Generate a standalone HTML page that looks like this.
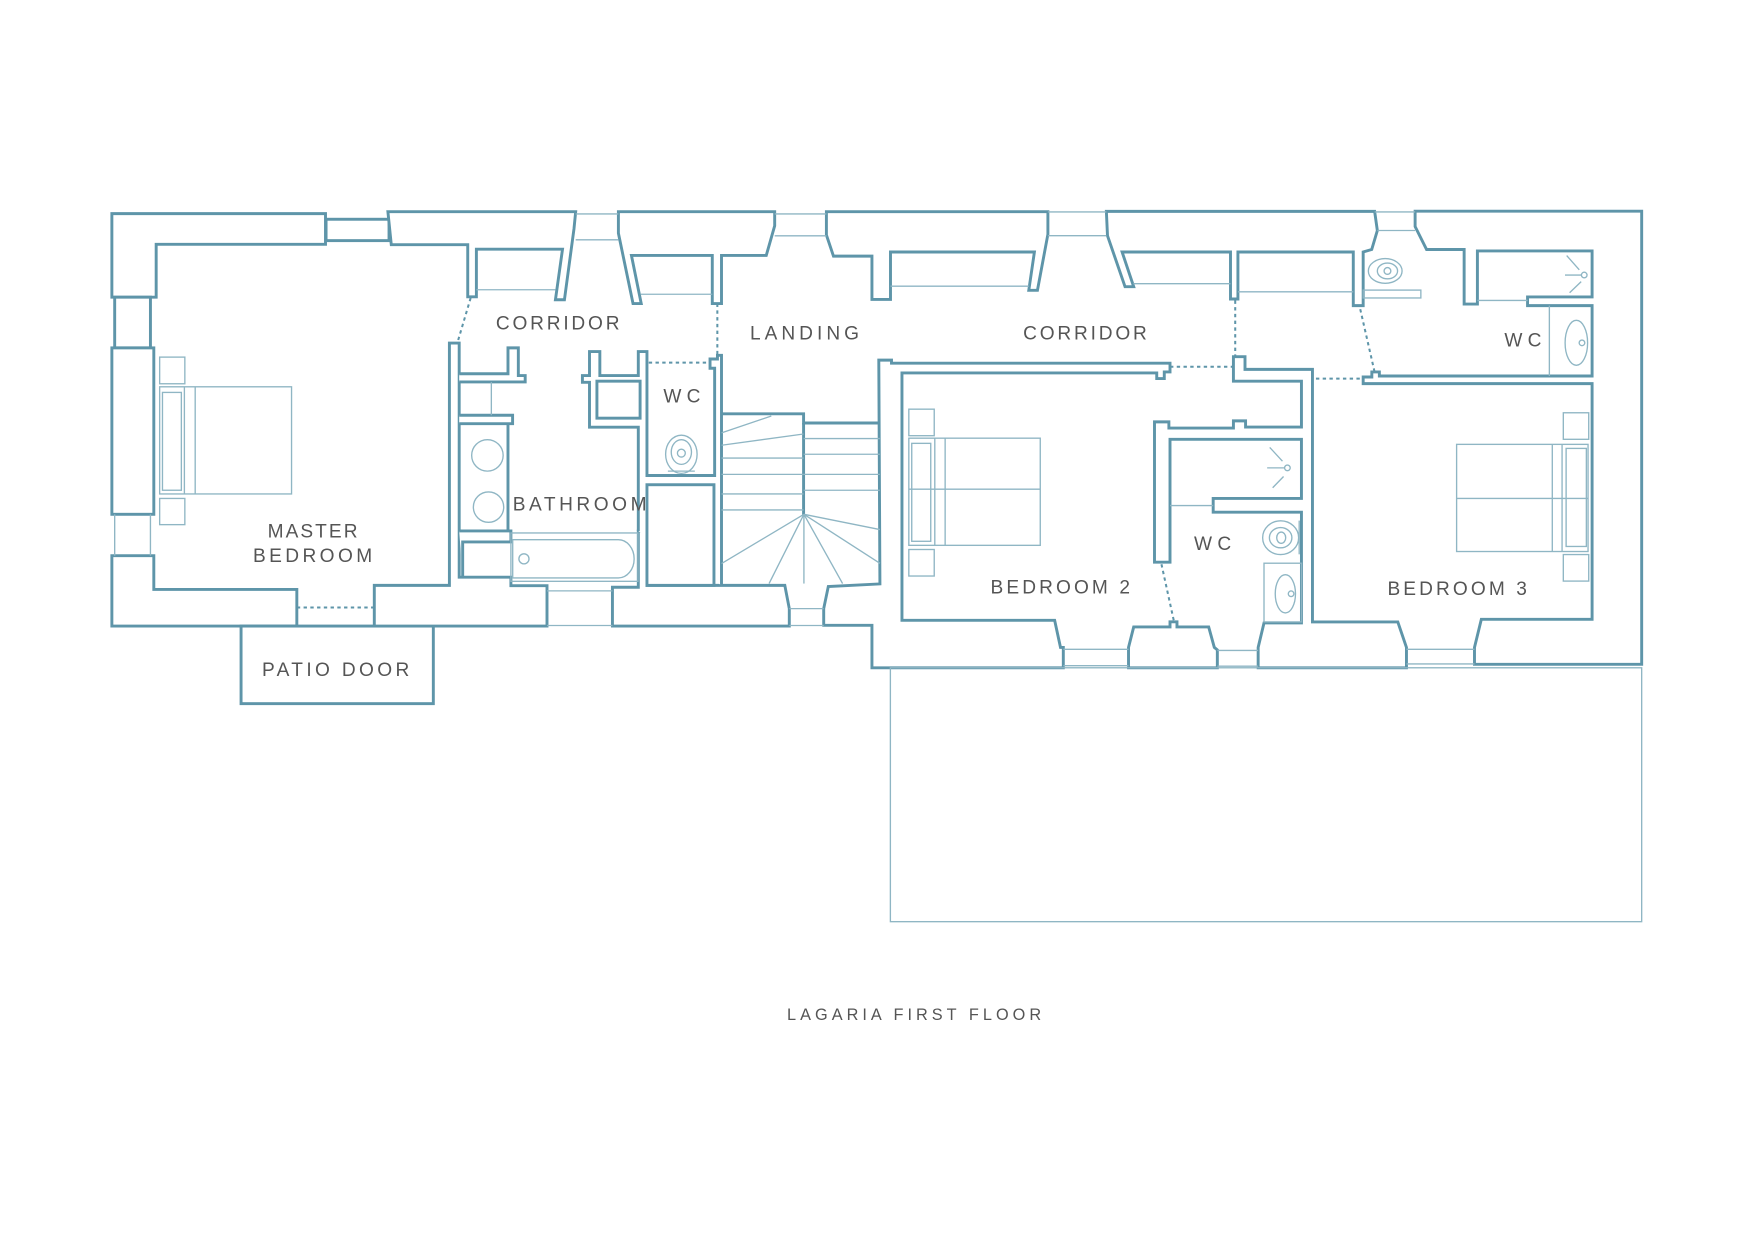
<!DOCTYPE html>
<html><head><meta charset="utf-8"><style>
html,body{margin:0;padding:0;background:#fff;}
svg{display:block;}
text{font-family:"Liberation Sans",sans-serif;fill:#555;font-size:17px;}
</style></head><body>
<svg width="1754" height="1241" viewBox="0 0 1560 1103.7" preserveAspectRatio="none" xmlns="http://www.w3.org/2000/svg">
<rect x="0" y="0" width="1560" height="1103.7" fill="#fff"/>
<g fill="#fff" stroke="#5e95a9" stroke-width="2.6" stroke-linejoin="miter">
<polygon points="99.5,190 289.5,190 289.5,217.3 138.9,217.3 138.9,264.3 99.5,264.3"/>
<rect x="290" y="195" width="56" height="19"/>
<polygon points="345,188.3 512,188.3 510.5,203.5 502,266.6 494,266.6 500.3,221.6 423.7,221.6 423.7,264 416,264 416,217.6 348,217.6"/>
<polygon points="550,188.3 689,188.3 689,200.8 681.5,227.2 641.7,227.2 641.7,270 633.5,270 633.5,227.2 561.6,227.2 570.3,270 563,270 550,207.4"/>
<polygon points="735,188.3 932,188.3 932,208.3 922.7,258.2 915,258.2 920,224.1 792,224.1 792,266.3 775.5,266.3 775.5,227.8 741.3,227.8 735,209"/>
<polygon points="984,188 1222.6,188 1225,205 1220,221.9 1212.4,224.1 1212.4,271.8 1203.6,271.8 1203.6,224.1 1101,224.1 1101,265.9 1094.4,265.9 1094.4,224.1 998,224.1 1008.3,255 1000.6,255 985,209.6"/>
<polygon points="1258.6,187.8 1460.1,187.8 1460.1,590.8 1311.4,590.8 1311.4,575.8 1317.5,550.8 1416,550.8 1416,341.2 1212.4,341.2 1212.4,335.3 1220.1,335.3 1220.1,330.8 1226.8,330.8 1226.8,334.4 1416,334.4 1416,271.8 1358.6,271.8 1358.6,264.1 1416,264.1 1416,223.2 1314,223.2 1314,270.4 1302.2,270.4 1302.2,221.9 1268.8,221.9 1258.6,201.5"/>
<rect x="102" y="264.3" width="31.8" height="45.1"/>
<rect x="99.5" y="309.4" width="37.3" height="148"/>
<polygon points="99.5,494.2 136.8,494.2 136.8,524.2 264,524.2 264,556.8 99.5,556.8"/>
<rect x="214.4" y="556.8" width="171" height="69"/>
<polygon points="332.9,556.8 332.9,520.6 399.7,520.6 399.7,305.1 408.4,305.1 408.4,513.3 454.4,513.3 454.4,520.9 486.5,520.9 486.5,556.8"/>
<polyline points="408.4,332.4 451.8,332.4 451.8,309.4 461,309.4 461,334 467.1,334 467.1,339.7 408.4,339.7"/>
<polyline points="408.4,369.3 455.9,369.3 455.9,376.8 408.4,376.8"/>
<polyline points="451.8,376.8 451.8,472.2"/>
<polyline points="408.4,472.2 454.4,472.2 454.4,482 411.5,482 411.5,513.3"/>
<polygon points="544.7,556.8 544.7,522.3 567.7,522.3 567.7,472.2 575.4,472.2 575.4,520.6 641.7,520.6 698,520.6 702,541.3 702,556.8"/>
<polyline points="567.7,472.2 567.7,379.9 524.3,379.9 524.3,340 518,340 518,334 524.3,334 524.3,312.7 533.5,312.7 533.5,334 567.7,334 567.7,312.7 575.4,312.7 575.4,422.9 635.6,422.9 635.6,327.5 631.5,327.5 631.5,319.3 638.1,319.3 638.1,316 641.7,316 641.7,520.6"/>
<rect x="530.9" y="339" width="38.4" height="32.9"/>
<rect x="575.4" y="431.1" width="59.6" height="89.5"/>
<polyline points="641.7,368 714.7,368 714.7,376.2 782.6,376.2" fill="none"/>
<polyline points="714.7,376.2 714.7,459" fill="none"/>
<polygon points="781.6,320.3 792.9,320.3 792.9,323 1040.6,323 1040.6,330.8 1035.5,330.8 1035.5,336.7 1028.8,336.7 1028.8,331.7 802.2,331.7 802.2,551.7 938,551.7 943.2,575.8 945.7,575.8 945.7,593.9 775.5,593.9 775.5,556.1 732.6,556.1 732.6,541.3 736.7,521.6 782.6,519.3"/>
<polygon points="1097,317.2 1107.3,317.2 1107.3,328.5 1167.3,328.5 1167.3,553.1 1243.2,553.1 1250.9,575.8 1250.9,593.9 1119,593.9 1119,575.8 1124.2,554 1157.5,554 1157.5,455.5 1079,455.5 1079,443.3 1157.5,443.3 1157.5,390.7 1040.6,390.7 1040.6,500 1026.8,500 1026.8,375.2 1039.6,375.2 1039.6,380.7 1097,380.7 1097,374.3 1107.8,374.3 1107.8,379.8 1157.5,379.8 1157.5,339 1097,339"/>
<polygon points="1003.7,593.9 1003.7,575.8 1008.3,557.6 1040.6,557.6 1040.6,553 1046.8,553 1046.8,557.6 1075,557.6 1080,575.8 1082.7,578 1082.7,593.9"/>
</g>
<g fill="none" stroke="#8fb6c4" stroke-width="1.2">
<line x1="512" y1="190.3" x2="550" y2="190.3"/><line x1="512" y1="213.3" x2="550" y2="213.3"/>
<line x1="689" y1="190.3" x2="735" y2="190.3"/><line x1="689" y1="209.7" x2="735" y2="209.7"/>
<line x1="932" y1="188.5" x2="984" y2="188.5"/><line x1="932" y1="209.6" x2="984" y2="209.6"/>
<line x1="1222.6" y1="188.5" x2="1258.6" y2="188.5"/><line x1="1225" y1="205" x2="1258.6" y2="205"/>
<line x1="423.7" y1="257.7" x2="494" y2="257.7"/>
<line x1="570" y1="261.7" x2="633.5" y2="261.7"/>
<line x1="792" y1="254.5" x2="915" y2="254.5"/>
<line x1="1008" y1="252.3" x2="1094.4" y2="252.3"/>
<line x1="1101" y1="259.5" x2="1203.6" y2="259.5"/>
<line x1="102" y1="457.4" x2="102" y2="494.2"/><line x1="133.8" y1="457.4" x2="133.8" y2="494.2"/>
<line x1="486.5" y1="525.5" x2="544.7" y2="525.5"/><line x1="486.5" y1="556.3" x2="544.7" y2="556.3"/>
<line x1="702" y1="541.3" x2="732.6" y2="541.3"/><line x1="702" y1="556.3" x2="732.6" y2="556.3"/>
<line x1="945.7" y1="577.5" x2="1003.7" y2="577.5"/><line x1="945.7" y1="592" x2="1003.7" y2="592"/>
<line x1="1082.7" y1="578.5" x2="1119" y2="578.5"/><line x1="1082.7" y1="592.5" x2="1119" y2="592.5"/>
<line x1="1250.9" y1="577.5" x2="1311.4" y2="577.5"/><line x1="1250.9" y1="590.5" x2="1311.4" y2="590.5"/>
<rect x="791.9" y="593.9" width="668.2" height="225.8"/>
<rect x="142" y="344" width="117.3" height="95.3"/>
<rect x="144.5" y="349" width="16.8" height="87"/>
<line x1="173.6" y1="344" x2="173.6" y2="439.3"/>
<line x1="164" y1="344" x2="164" y2="439.3"/>
<rect x="142" y="317.6" width="22.4" height="23.7"/>
<rect x="142" y="443.3" width="22.4" height="23.3"/>
<line x1="437" y1="339.7" x2="437" y2="369.3"/>
<ellipse cx="433.5" cy="405" rx="14" ry="14"/>
<ellipse cx="434.5" cy="451" rx="13.5" ry="13.5"/>
<rect x="454.4" y="474" width="113" height="43"/>
<path d="M456,480 H550 A14,17 0 0 1 550,514 H456 Z"/>
<circle cx="466" cy="497" r="4.5"/>
<ellipse cx="606" cy="404" rx="14" ry="17"/>
<ellipse cx="606" cy="402" rx="9" ry="11"/>
<circle cx="606" cy="403" r="3.5"/>
<line x1="594" y1="419" x2="618" y2="419"/>
<line x1="641.7" y1="385" x2="686" y2="370"/>
<line x1="641.7" y1="396" x2="714.7" y2="386"/>
<line x1="641.7" y1="407.4" x2="714.7" y2="407.4"/>
<line x1="641.7" y1="421.9" x2="714.7" y2="421.9"/>
<line x1="641.7" y1="439.3" x2="714.7" y2="439.3"/>
<line x1="641.7" y1="453.5" x2="714.7" y2="453.5"/>
<line x1="714.7" y1="390" x2="782.6" y2="390"/>
<line x1="714.7" y1="404" x2="782.6" y2="404"/>
<line x1="714.7" y1="421.9" x2="782.6" y2="421.9"/>
<line x1="714.7" y1="436" x2="782.6" y2="436"/>
<line x1="715" y1="457.4" x2="641.7" y2="501.2"/>
<line x1="715" y1="457.4" x2="684" y2="519"/>
<line x1="715" y1="457.4" x2="715" y2="519"/>
<line x1="715" y1="457.4" x2="749.4" y2="519"/>
<line x1="715" y1="457.4" x2="782.6" y2="501"/>
<line x1="715" y1="457.4" x2="782.6" y2="471"/>
<rect x="808.3" y="389.7" width="116.9" height="95.3"/>
<line x1="808.3" y1="435.1" x2="925.2" y2="435.1"/>
<rect x="810.9" y="394.3" width="16.9" height="87.1"/>
<line x1="831.4" y1="389.7" x2="831.4" y2="485"/>
<line x1="840.6" y1="389.7" x2="840.6" y2="485"/>
<rect x="808.3" y="363.9" width="22.6" height="23.6"/>
<rect x="808.3" y="488.7" width="22.6" height="23.6"/>
<line x1="1040.6" y1="449.6" x2="1079" y2="449.6"/>
<circle cx="1145" cy="416.1" r="2.5"/>
<line x1="1129.3" y1="397.9" x2="1140.6" y2="410.2"/>
<line x1="1127" y1="416.1" x2="1142.5" y2="416.1"/>
<line x1="1131.9" y1="433.8" x2="1141.6" y2="423.8"/>
<ellipse cx="1139" cy="478.2" rx="16" ry="15"/>
<ellipse cx="1139" cy="478.2" rx="10" ry="9"/>
<ellipse cx="1139.5" cy="478.2" rx="4" ry="5"/>
<line x1="1155.5" y1="463" x2="1155.5" y2="493"/>
<rect x="1124.2" y="500.9" width="33.3" height="52.2"/>
<ellipse cx="1143.2" cy="528.1" rx="9" ry="17"/>
<circle cx="1148.3" cy="528.1" r="2.5"/>
<ellipse cx="1232" cy="241" rx="15" ry="11"/>
<ellipse cx="1234" cy="241" rx="9" ry="7"/>
<circle cx="1234" cy="241" r="3"/>
<rect x="1212.4" y="258" width="51.3" height="7"/>
<line x1="1314" y1="267.2" x2="1358.6" y2="267.2"/>
<circle cx="1409" cy="244.6" r="2.5"/>
<line x1="1393.4" y1="227.3" x2="1404.6" y2="240"/>
<line x1="1391.9" y1="244.6" x2="1406.3" y2="244.6"/>
<line x1="1396" y1="260.4" x2="1406.3" y2="250.5"/>
<line x1="1378" y1="271.8" x2="1378" y2="334.4"/>
<ellipse cx="1402" cy="304.9" rx="10" ry="20"/>
<circle cx="1407" cy="304.9" r="2.5"/>
<rect x="1295.5" y="395.2" width="116.9" height="95.3"/>
<line x1="1295.5" y1="443.3" x2="1412.4" y2="443.3"/>
<rect x="1392.9" y="398.8" width="18" height="87.2"/>
<line x1="1380.6" y1="395.2" x2="1380.6" y2="490.5"/>
<line x1="1389.3" y1="395.2" x2="1389.3" y2="490.5"/>
<rect x="1390.4" y="367.1" width="22.6" height="23.6"/>
<rect x="1390.4" y="493.2" width="22.6" height="23.6"/>
</g>
<g fill="none" stroke="#5e95a9" stroke-width="1.8" stroke-dasharray="3,3">
<line x1="264" y1="540.3" x2="332.9" y2="540.3"/>
<line x1="418.6" y1="265" x2="406.9" y2="304.5"/>
<line x1="638" y1="270" x2="638" y2="316"/>
<line x1="577" y1="322.5" x2="631" y2="322.5"/>
<line x1="1040.6" y1="326.2" x2="1097" y2="326.2"/>
<line x1="1098.6" y1="267.2" x2="1098.6" y2="317.2"/>
<line x1="1209.8" y1="275" x2="1222.6" y2="331"/>
<line x1="1170.4" y1="336.7" x2="1212.4" y2="336.7"/>
<line x1="1033" y1="501.8" x2="1044.2" y2="553"/>
</g>
<g>
<text x="441" y="293" textLength="110">CORRIDOR</text>
<text x="667" y="302" textLength="97">LANDING</text>
<text x="910" y="302" textLength="110">CORRIDOR</text>
<text x="590" y="358" textLength="33">WC</text>
<text x="456" y="454" textLength="119">BATHROOM</text>
<text x="238" y="478" textLength="80">MASTER</text>
<text x="225" y="500" textLength="106">BEDROOM</text>
<text x="233" y="601" textLength="131">PATIO DOOR</text>
<text x="881" y="528" textLength="124">BEDROOM 2</text>
<text x="1062" y="489" textLength="33">WC</text>
<text x="1234" y="529" textLength="124">BEDROOM 3</text>
<text x="1338" y="308" textLength="33">WC</text>
<text x="700" y="907" textLength="226" style="font-size:14.5px">LAGARIA FIRST FLOOR</text>
</g>
</svg>
</body></html>
